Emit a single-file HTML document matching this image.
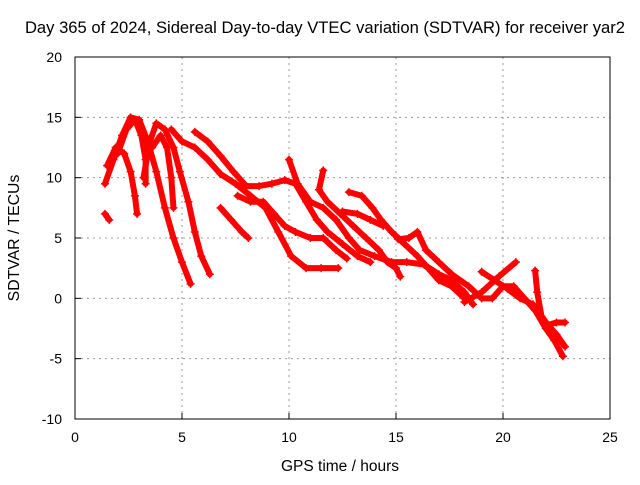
<!DOCTYPE html>
<html><head><meta charset="utf-8"><style>
body{margin:0;background:#fff}
svg text{font-family:"Liberation Sans",sans-serif;font-size:14px;fill:#000}
</style></head><body>
<svg width="640" height="480">
<text x="325" y="33" text-anchor="middle" style="font-size:16.6px">Day 365 of 2024, Sidereal Day-to-day VTEC variation (SDTVAR) for receiver yar2</text>
<g id="grid"></g>
<g id="series"></g>
<rect x="75" y="57" width="535" height="362" fill="none" stroke="#000"/>
<g id="axes"></g>
<text x="340" y="471" text-anchor="middle" style="font-size:15.5px">GPS time / hours</text>
<text transform="translate(19,238) rotate(-90)" text-anchor="middle" style="font-size:15.8px">SDTVAR / TECUs</text>
</svg>
<script>
const xTicks=[0,5,10,15,20,25];
const yTicks=[-10,-5,0,5,10,15,20];
const track1=[[1.4,9.5],[1.8,11.5],[2.2,13.5],[2.6,15],[3.0,14.8],[3.4,13],[3.8,10.5],[4.2,7.5],[4.6,5],[5.0,3],[5.4,1.2]];
const track2=[[1.5,11],[1.9,12.5],[2.3,12],[2.6,10.5],[2.8,8.5],[2.9,7]];
const track3=[[2.0,12],[2.4,14],[2.8,14.8],[3.1,13.5],[3.3,11.5],[3.3,9.5]];
const track4=[[3.2,10],[3.5,13],[3.8,14.5],[4.2,14],[4.6,12.5],[4.9,10.5],[5.3,8],[5.6,5.5],[5.9,3.5],[6.3,2]];
const track5=[[3.6,12.5],[4.0,13.5],[4.3,12.5],[4.5,10],[4.6,7.5]];
const track6=[[4.5,14],[5.0,13],[5.6,12.5],[6.2,11.5],[6.8,10.3],[7.5,9.5],[8.2,8.5],[8.9,7.5],[9.5,5.5],[10.1,3.5],[10.8,2.5],[11.5,2.5],[12.3,2.5]];
const track7=[[5.6,13.8],[6.2,13],[6.8,11.8],[7.4,10.5],[8.0,9.3],[8.6,9.3],[9.2,9.5],[9.8,9.8],[10.3,9.5],[10.8,8],[11.3,6.5],[11.8,5.5],[12.5,4.5],[13.2,3.5],[13.8,3]];
const track8=[[6.8,7.5],[7.3,6.5],[7.8,5.5],[8.1,5]];
const track9=[[7.6,8.5],[8.2,8],[8.8,8],[9.3,7],[9.8,6],[10.3,5.5],[11,5],[11.6,5],[12.2,4],[12.7,3.3]];
const track10=[[10.0,11.5],[10.4,9.5],[11.0,8],[11.6,7.5],[12.2,6.5],[12.8,5],[13.3,4],[14.0,3.5],[14.8,3],[15.5,3],[16.3,2.8],[17.0,2],[17.6,1.5],[18.2,0.5],[18.6,-0.5]];
const track11=[[11.6,10.6],[11.4,9],[11.8,8],[12.4,7],[13.0,6],[13.6,5],[14.2,4],[14.6,3],[15.0,2.5],[15.2,1.8]];
const track12=[[12.8,8.8],[13.4,8.5],[13.9,7.5],[14.3,6.5],[14.8,5.5],[15.4,4.5],[16.0,3.5],[16.5,2.5],[17.0,1.5],[17.6,1],[18.2,0]];
const track13=[[12.5,7.2],[13.2,7],[13.8,6.5],[14.4,6]];
const track14=[[15.1,4.9],[15.6,5],[16.0,5.5],[16.4,4],[17,3],[17.6,2],[18.4,1],[19,0],[19.5,0],[20,1],[20.5,1],[21,0],[21.5,-1],[22,-2.5],[22.4,-3.5],[22.8,-4.8]];
const track15=[[18.2,-0.3],[19.0,0.5],[19.8,1.8],[20.6,3]];
const track16=[[19.0,2.2],[19.6,1.5],[20.2,0.8],[20.8,0],[21.4,-0.5],[22,-2],[22.5,-3],[22.9,-4]];
const track17=[[21.5,2.3],[21.6,0.5],[21.8,-1.5],[22.1,-2.2],[22.5,-2],[22.9,-2]];
const track18=[[1.4,7],[1.6,6.5]];
const tracks=[track1,track2,track3,track4,track5,track6,track7,track8,track9,track10,track11,track12,track13,track14,track15,track16,track17,track18];
const NS='http://www.w3.org/2000/svg';
const X=v=>75+v*535/25, Y=v=>57+(20-v)*362/30;
const grid=document.getElementById('grid'),axes=document.getElementById('axes'),ser=document.getElementById('series');
function mk(tag,at,p){const e=document.createElementNS(NS,tag);for(const k in at)e.setAttribute(k,at[k]);p.appendChild(e);return e;}
xTicks.forEach(t=>{
  const x=X(t);
  if(t>0&&t<25){const l=mk('line',{x1:x,x2:x,y1:57,y2:419,stroke:'#999','stroke-dasharray':'2,4'},grid);
  
  }
  const tl=mk('line',{x1:x,x2:x,y1:419,y2:413,stroke:'#000'},axes);
  
  
  const tx=mk('text',{x:x,y:442,'text-anchor':'middle'},axes);tx.textContent=t;
  
  
});
yTicks.forEach(t=>{
  const y=Y(t);
  if(t>-10&&t<20){const l=mk('line',{x1:75,x2:610,y1:y,y2:y,stroke:'#999','stroke-dasharray':'2,4'},grid);
  
  }
  const tl=mk('line',{x1:75,x2:81,y1:y,y2:y,stroke:'#000'},axes);
  
  
  const tx=mk('text',{x:62,y:y+5,'text-anchor':'end'},axes);tx.textContent=t;
  
  
});
tracks.forEach((tr,i)=>{
  const pl=mk('polyline',{points:tr.map(p=>X(p[0])+','+Y(p[1])).join(' '),fill:'none',stroke:'#f00','stroke-width':6,'stroke-linejoin':'round','stroke-linecap':'round'},ser);
  
  
  tr.forEach(p=>{
    const m=mk('path',{d:`M${X(p[0])-4},${Y(p[1])}h8M${X(p[0])},${Y(p[1])-4}v8`,stroke:'#f00','stroke-width':1.5},ser);
    
    
  });
});
</script>
</body></html>
